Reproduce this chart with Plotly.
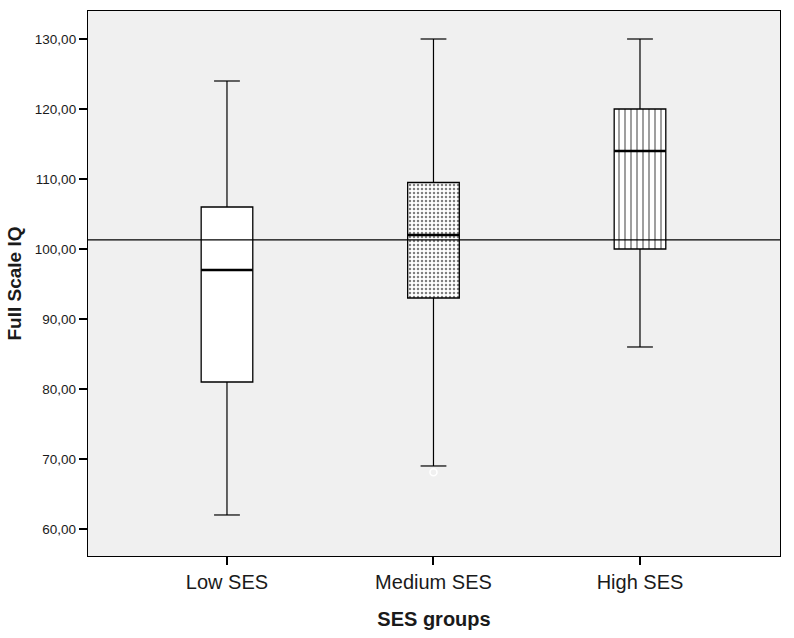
import plotly.graph_objects as go

categories = ["Low SES", "Medium SES", "High SES"]
lower_whisker = [62, 69, 86]
q1 = [81, 93, 100]
median = [97, 102, 114]
q3 = [106, 109.5, 120]
upper_whisker = [124, 130, 130]
outlier_x = ["Medium SES"]
outlier_y = [68.1]
reference_line = 101.3
y_ticks = [60, 70, 80, 90, 100, 110, 120, 130]
y_ticklabels = ["60,00", "70,00", "80,00", "90,00", "100,00", "110,00", "120,00", "130,00"]

pos = list(range(len(categories)))
box_w = 0.25
cap_half = box_w / 4

fig = go.Figure()

# whiskers (vertical + caps)
wx, wy = [], []
for i in pos:
    wx += [i, i, None, i, i, None]
    wy += [q3[i], upper_whisker[i], None, q1[i], lower_whisker[i], None]
    wx += [i - cap_half, i + cap_half, None, i - cap_half, i + cap_half, None]
    wy += [upper_whisker[i], upper_whisker[i], None, lower_whisker[i], lower_whisker[i], None]
fig.add_trace(go.Scatter(x=wx, y=wy, mode="lines", line=dict(color="black", width=1.2),
                         hoverinfo="skip", showlegend=False))

# boxes
patterns = [dict(shape=""), dict(shape=".", fgcolor="black", bgcolor="white", size=4, solidity=0.3),
            dict(shape="|", fgcolor="black", bgcolor="white", size=6, solidity=0.25)]
for i in pos:
    fig.add_trace(go.Bar(x=[i], y=[q3[i] - q1[i]], base=[q1[i]], width=box_w,
                         marker=dict(color="white", line=dict(color="black", width=1.3),
                                     pattern=patterns[i]),
                         hoverinfo="skip", showlegend=False))

# medians
mx, my = [], []
for i in pos:
    mx += [i - box_w / 2, i + box_w / 2, None]
    my += [median[i], median[i], None]
fig.add_trace(go.Scatter(x=mx, y=my, mode="lines", line=dict(color="black", width=2.5),
                         hoverinfo="skip", showlegend=False))

# outlier
fig.add_trace(go.Scatter(x=[categories.index(c) for c in outlier_x], y=outlier_y, mode="markers",
                         marker=dict(symbol="circle-open", color="white", size=7, line=dict(width=1.5)),
                         hoverinfo="skip", showlegend=False))

fig.add_shape(type="line", xref="paper", x0=0, x1=1, yref="y", y0=reference_line, y1=reference_line,
              line=dict(color="black", width=1.2), layer="above")

fig.update_layout(
    width=794, height=638,
    margin=dict(l=88, r=14, t=11, b=82),
    paper_bgcolor="white", plot_bgcolor="#f0f0f0",
    font=dict(family="Liberation Sans, Arial, sans-serif", color="#1a1a1a"),
    barmode="overlay",
    xaxis=dict(range=[-0.673, 2.678], tickvals=pos, ticktext=categories, automargin=False,
               showgrid=False, zeroline=False, showline=True, linecolor="black", linewidth=1.3,
               mirror=True, ticks="outside", ticklen=8, tickwidth=1.5, tickcolor="black",
               tickfont=dict(size=20),
               title=dict(text="<b>SES groups</b>", font=dict(size=20), standoff=19)),
    yaxis=dict(range=[56.14, 134], tickvals=y_ticks, ticktext=y_ticklabels, automargin=False,
               showgrid=False, zeroline=False, showline=True, linecolor="black", linewidth=1.3,
               mirror=True, ticks="outside", ticklen=8, tickwidth=1.5, tickcolor="black",
               tickfont=dict(size=13.5),
               title=dict(text="<b>Full Scale IQ</b>", font=dict(size=19), standoff=8)),
)

fig.write_html("out.html")
